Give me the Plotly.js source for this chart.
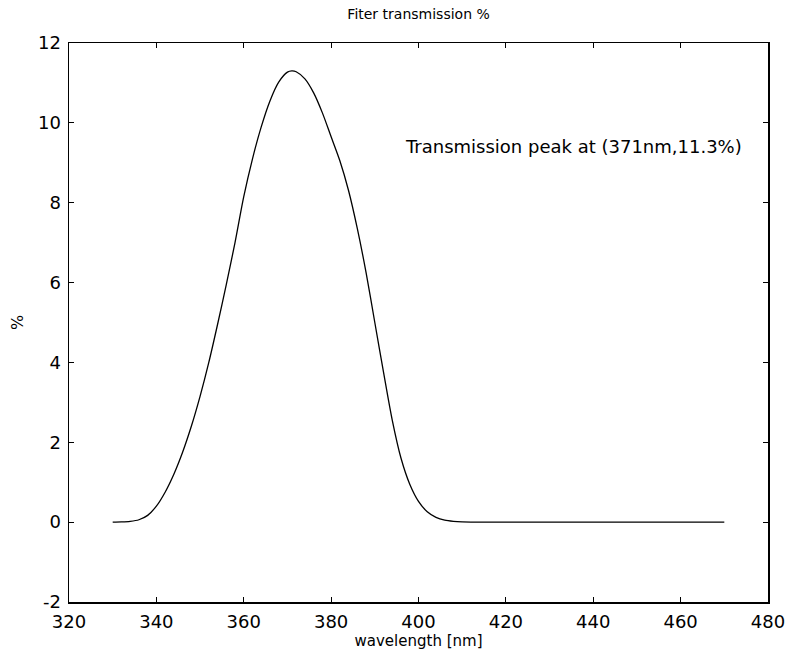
<!DOCTYPE html>
<html>
<head>
<meta charset="utf-8">
<script src="https://cdn.plot.ly/plotly-3.0.1.min.js"></script>
<style>html,body{margin:0;padding:0;background:#fff;}#chart{width:789px;height:665px;}</style>
</head>
<body>
<div id="chart"></div>
<script>
const wavelength = [330,332,334,336,338,340,342,344,346,348,350,352,354,356,358,360,362,364,366,368,370,371,372,374,376,378,380,382,384,386,388,390,392,394,396,398,400,402,404,406,408,410,412,420,430,440,450,460,470];
const transmission = [0,0.005,0.02,0.06,0.17,0.4,0.75,1.2,1.75,2.4,3.15,4.0,4.95,5.95,7.0,8.15,9.1,9.9,10.55,11.02,11.27,11.3,11.28,11.1,10.75,10.25,9.65,9.05,8.3,7.35,6.25,5.0,3.75,2.55,1.6,0.95,0.52,0.26,0.12,0.05,0.02,0.005,0,0,0,0,0,0,0];
const xTicks = [320,340,360,380,400,420,440,460,480];
const yTicks = [-2,0,2,4,6,8,10,12];
const chartTitle = 'Fiter transmission %';
const xLabel = 'wavelength [nm]';
const yLabel = '%';
const peakText = 'Transmission peak at (371nm,11.3%)';
const peakLabelPos = [396.5, 9.4];

const font = 'DejaVu Sans, Liberation Sans, Arial, sans-serif';
const axisCommon = {
  showgrid: false, zeroline: false, showline: true, linecolor: '#000', linewidth: 1.5,
  mirror: 'ticks', ticks: 'inside', ticklen: 5, tickcolor: '#000', tickwidth: 1,
  tickfont: {family: font, size: 18, color: '#000'}
};
Plotly.newPlot('chart', [{
  x: wavelength, y: transmission, type: 'scatter', mode: 'lines',
  line: {color: '#000', width: 1.3, shape: 'spline', smoothing: 0.8}, hoverinfo: 'none'
}], {
  width: 789, height: 665,
  paper_bgcolor: '#fff', plot_bgcolor: '#fff',
  margin: {l: 69, r: 21, t: 43, b: 63},
  showlegend: false,
  title: {text: chartTitle, font: {family: font, size: 14, color: '#000'}, x: 0.5305, xanchor: 'center', y: 0.979, yanchor: 'middle'},
  xaxis: Object.assign({}, axisCommon, {range: [320, 480], tickvals: xTicks, ticktext: xTicks.map(String),
    ticklabelstandoff: 3,
    title: {text: xLabel, font: {family: font, size: 15, color: '#000'}, standoff: 0}}),
  yaxis: Object.assign({}, axisCommon, {range: [-2, 12], tickvals: yTicks, ticktext: yTicks.map(String),
    ticklabelstandoff: 3,
    title: {text: yLabel, font: {family: font, size: 16, color: '#000'}, standoff: 10}}),
  annotations: [{x: peakLabelPos[0], y: peakLabelPos[1], xref: 'x', yref: 'y', text: peakText, showarrow: false,
    xanchor: 'left', yanchor: 'middle', font: {family: font, size: 18, color: '#000'}}]
}, {staticPlot: true});
</script>
</body>
</html>
